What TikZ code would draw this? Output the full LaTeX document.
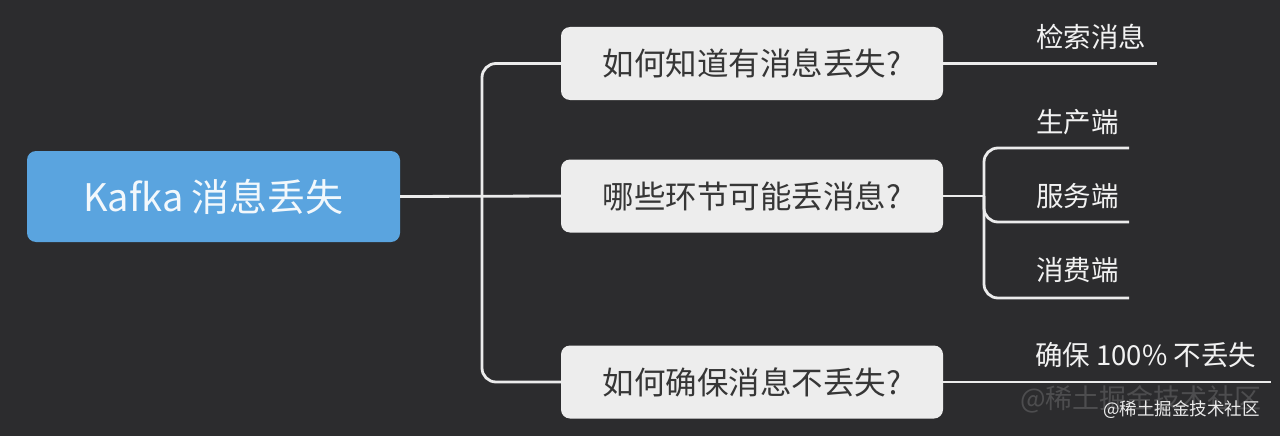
\documentclass[tikz,border=0pt]{standalone}
\usepackage{fontspec}
\setmainfont{Noto Sans CJK SC}
\newfontfamily\cjk{Noto Sans CJK SC}
\definecolor{bg}{HTML}{2C2C2E}
\definecolor{rootblue}{HTML}{5AA4DF}
\definecolor{boxfill}{HTML}{EDEDED}
\definecolor{boxtext}{HTML}{363636}
\definecolor{linecol}{HTML}{ECECEC}
\definecolor{labelcol}{HTML}{F2F2F2}
\begin{document}
\begin{tikzpicture}[x=1pt,y=-1pt,
  rootbox/.style={fill=rootblue, rounded corners=9pt, minimum width=373pt, minimum height=91pt, inner sep=0pt, text=white!92!rootblue, font=\cjk\fontsize{38}{44}\selectfont},
  qbox/.style={fill=boxfill, rounded corners=9pt, minimum width=382pt, minimum height=73pt, inner sep=0pt, text=boxtext, font=\cjk\fontsize{31.5}{36}\selectfont},
  leaf/.style={anchor=west, inner sep=0pt, text=labelcol, font=\cjk\fontsize{27.5}{32}\selectfont},
  conn/.style={draw=linecol, line width=2.8pt},
  branch/.style={conn, rounded corners=14pt}
]
\fill[bg] (0,0) rectangle (1280,436);
\useasboundingbox (0,0) rectangle (1280,436);

% nodes
\node[rootbox] (root) at (213.5,196.5) {Kafka 消息丢失};
\node[qbox] (q1) at (752,63.5) {如何知道有消息丢失?};
\node[qbox] (q2) at (752,196) {哪些环节可能丢消息?};
\node[qbox] (q3) at (752,382) {如何确保消息不丢失?};

\coordinate (trunk) at (482,196);
\coordinate (fork2) at (984,196);
\coordinate (e1) at (1157,63.5);
\coordinate (e2a) at (1129,148);
\coordinate (e2b) at (1129,222);
\coordinate (e2c) at (1129,298);
\coordinate (e3) at (1271,382);

% leaf labels
\node[leaf] (l1) at (1036,37) {检索消息};
\node[leaf] (l2a) at (1036,122) {生产端};
\node[leaf] (l2b) at (1036,196) {服务端};
\node[leaf] (l2c) at (1036,270) {消费端};
\node[leaf] (l3) at (1035,355) {确保 100\% 不丢失};

% connectors
\draw[conn] (root.east) -- (q2.west);
\draw[branch] (q1.west) -| (trunk) |- (q3.west);
\draw[conn] (q1.east) -- (e1);
\draw[conn] (q2.east) -- (fork2);
\draw[branch] (e2a) -| (fork2) |- (e2c);
\draw[branch] (fork2) |- (e2b);
\draw[conn] (q3.east) -- (e3);

% watermark
\node[anchor=west, inner sep=0pt, text=white, opacity=0.16, font=\cjk\fontsize{27}{30}\selectfont] (wm1) at (1020,399) {@稀土掘金技术社区};
\node[anchor=west, inner sep=0pt, text=white!85!gray, font=\cjk\fontsize{17.5}{20}\selectfont] (wm2) at (1103,410) {@稀土掘金技术社区};
\end{tikzpicture}
\end{document}
